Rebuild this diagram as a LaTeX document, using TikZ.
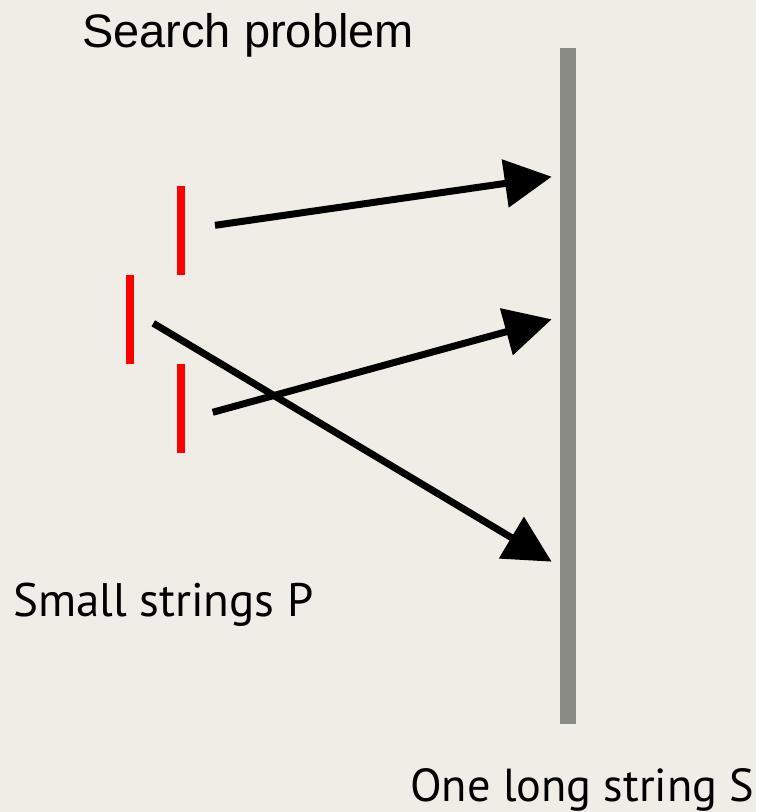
\documentclass[tikz,border=0pt]{standalone}
\usepackage{fontspec}
\setmainfont{Liberation Sans}
\newfontfamily\labelfont{PT Sans}
\usetikzlibrary{arrows.meta}
\definecolor{paper}{HTML}{EFEDE5}
\definecolor{bargray}{HTML}{8A8B85}
\definecolor{pred}{HTML}{FF0000}
\tikzset{
  pattern bar/.style={fill=pred, draw=none, minimum width=8pt, minimum height=89pt, inner sep=0pt, rectangle},
  match arrow/.style={draw=black, line width=7pt, -{Triangle[length=47pt,width=47pt]}},
  caption/.style={inner sep=0pt, anchor=base west, text=black}
}
\begin{document}
\begin{tikzpicture}[x=1pt,y=-1pt]
  \fill[paper] (0,0) rectangle (756,812);
  \useasboundingbox (0,0) rectangle (756,812);

  % long text string S
  \node[fill=bargray, draw=none, inner sep=0pt, minimum width=16pt, minimum height=676pt] (S) at (568,386) {};

  % small pattern strings P
  \node[pattern bar] (p1) at (180.7,230) {};
  \node[pattern bar] (p2) at (130,319.3) {};
  \node[pattern bar] (p3) at (181,408.7) {};

  % where each pattern occurs in S
  \coordinate (a1) at (215,225.3);
  \coordinate (a2) at (212.7,412.3);
  \coordinate (a3) at (153.3,323.3);
  \coordinate (t1) at (551.7,176.7);
  \coordinate (t2) at (551.7,319.3);
  \coordinate (t3) at (551.7,561.7);
  \draw[match arrow] (a1) -- (t1);
  \draw[match arrow] (a2) -- (t2);
  \draw[match arrow] (a3) -- (t3);

  % captions
  \node[caption, font=\fontsize{47}{54}\selectfont] (title) at (82,47) {Search problem};
  \node[caption, font=\labelfont\fontsize{47}{54}\selectfont] (lp) at (13,616) {Small strings P};
  \node[caption, font=\labelfont\fontsize{46.3}{54}\selectfont] (ls) at (410,801.7) {One long string S};
\end{tikzpicture}
\end{document}
